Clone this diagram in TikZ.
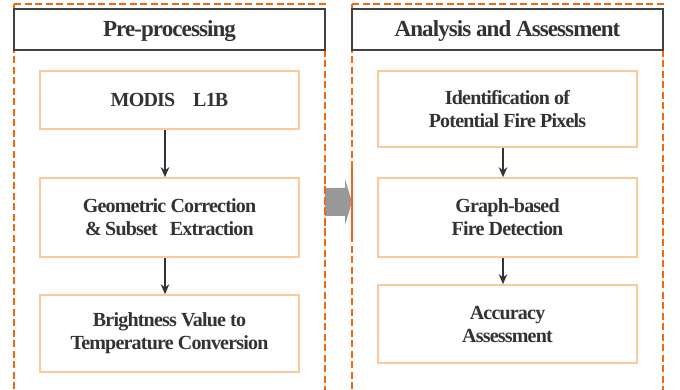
\documentclass[tikz,border=0pt]{standalone}
\usepackage{fontspec}
\setmainfont{Liberation Serif}[LetterSpace=-4]
\usetikzlibrary{arrows.meta}
\definecolor{dashor}{HTML}{F4660F}
\definecolor{boxor}{HTML}{FCC99B}
\definecolor{txt}{HTML}{333333}
\definecolor{ttl}{HTML}{404040}
\definecolor{grayarr}{HTML}{999999}
\tikzset{
  stepbox/.style={draw=boxor, line width=1.6pt, fill=white, minimum width=259pt, align=center,
    text=txt, font=\fontsize{20}{23}\selectfont\bfseries, inner sep=0pt},
  titlebox/.style={draw=ttl, line width=1.2pt, fill=white, minimum width=311pt, minimum height=41pt,
    text=txt, font=\fontsize{23}{25}\selectfont\bfseries, inner sep=0pt},
  outerbox/.style={draw=dashor, line width=2.2pt, dash pattern=on 7pt off 3.5pt},
  arr/.style={draw=txt, line width=1.6pt, -{Stealth[length=10pt,width=8.5pt]}},
}
\begin{document}
\begin{tikzpicture}[x=1pt,y=-1pt]
\useasboundingbox[fill=white] (0,0) rectangle (680,390);
\begin{scope}
\clip (0,0) rectangle (680,390);
\draw[outerbox] (14,4) -- (325,4) -- (325,400);
\draw[outerbox] (14,4) -- (14,400);
\draw[outerbox] (352,4) -- (663,4) -- (663,400);
\draw[outerbox] (352,4) -- (352,400);
\end{scope}
% gray connecting arrow
\fill[grayarr] (325,188) -- (345,188) -- (345,179) -- (352,202) -- (345,225) -- (345,216) -- (325,216) -- cycle;
\draw[outerbox] (325,166.5) -- (325,240);
\draw[outerbox] (352,166.5) -- (352,240);
% titles
\node[titlebox, minimum height=41pt] (t1) at (169.5,29.5) {};
\node[titlebox, minimum height=41pt] (t2) at (507.5,29.5) {};
\node[text=txt, font=\fontsize{23}{25}\selectfont\bfseries, inner sep=0pt] (tt1) at ([yshift=-2pt]t1.center) {Pre-processing};
\node[text=txt, font=\fontsize{23}{25}\selectfont\bfseries, inner sep=0pt] (tt2) at ([yshift=-2pt]t2.center) {Analysis and Assessment};
% left column
\node[stepbox, minimum height=58pt] (l1) at (169.5,100) {MODIS\hspace{0.9em}L1B};
\node[stepbox, minimum height=79pt] (l2) at (169.5,217.5) {Geometric Correction\\\&\,Subset\hspace{0.6em}Extraction};
\node[stepbox, minimum height=77pt] (l3) at (169.5,333.5) {Brightness Value to\\Temperature Conversion};
% right column
\node[stepbox, minimum height=76pt] (r1) at (507.5,109) {Identification of\\Potential Fire Pixels};
\node[stepbox, minimum height=79pt] (r2) at (507.5,217.5) {Graph-based\\Fire Detection};
\node[stepbox, minimum height=78pt] (r3) at (507.5,324) {Accuracy\\Assessment};
% arrows
\draw[arr] ([xshift=-4.5pt]l1.south) -- ([xshift=-4.5pt]l2.north);
\draw[arr] ([xshift=-4.5pt]l2.south) -- ([xshift=-4.5pt]l3.north);
\draw[arr] ([xshift=-4.5pt]r1.south) -- ([xshift=-4.5pt]r2.north);
\draw[arr] ([xshift=-4.5pt]r2.south) -- ([xshift=-4.5pt]r3.north);
\end{tikzpicture}
\end{document}
